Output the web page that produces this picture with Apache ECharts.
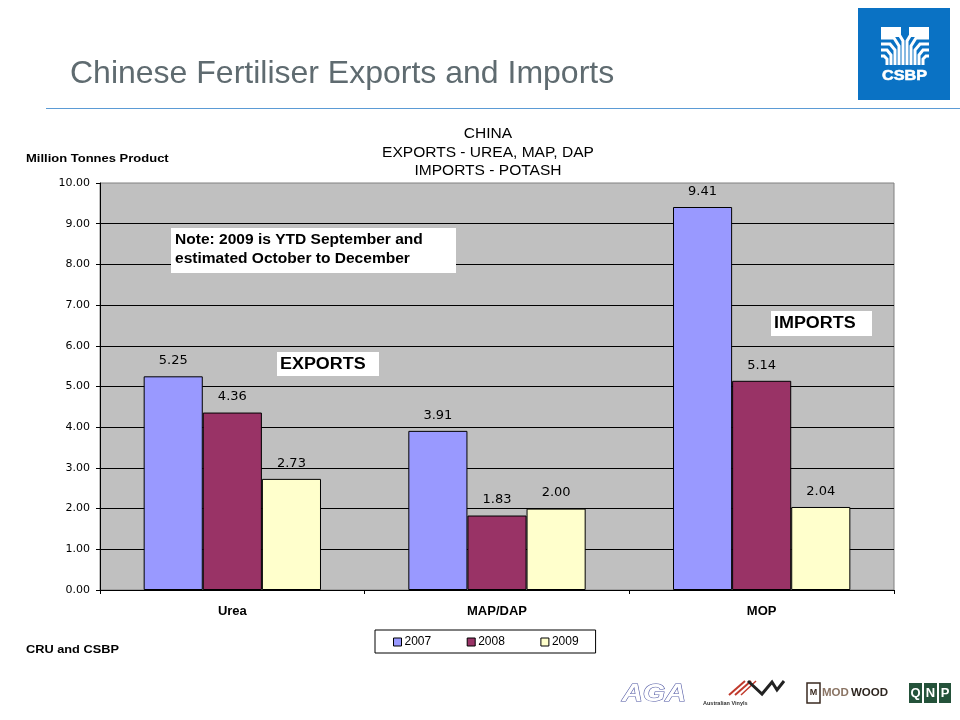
<!DOCTYPE html>
<html>
<head>
<meta charset="utf-8">
<title>Chinese Fertiliser Exports and Imports</title>
<script src="https://cdn.jsdelivr.net/npm/echarts@6/dist/echarts.min.js"></script>
<style>
html, body { margin: 0; padding: 0; background: #fff; }
#main { width: 960px; height: 720px; }
</style>
</head>
<body>
<div id="main"></div>
<script>
const categories = ['Urea', 'MAP/DAP', 'MOP'];
const values2007 = [5.25, 3.91, 9.41];
const values2008 = [4.36, 1.83, 5.14];
const values2009 = [2.73, 2.00, 2.04];

const FONT = '"Liberation Sans", Arial, sans-serif';
const WIDE_FONT = '"DejaVu Sans", sans-serif';

function makeSeries(name, data, color) {
	return {
		name: name,
		type: 'bar',
		data: data,
		barGap: 0,
		barCategoryGap: '33%',
		itemStyle: { color: color, borderColor: '#000', borderWidth: 1 },
		label: {
			show: true,
			position: 'top',
			distance: 9,
			color: '#000',
			fontFamily: WIDE_FONT,
			fontSize: 13,
			formatter: function (p) { return p.value.toFixed(2); }
		}
	};
}

// stretch: the reference text is wider than Liberation Sans at the same height
function txt(x, y, text, size, extra, stretch) {
	return {
		type: 'text', x: x, y: y, z: 20,
		scaleX: stretch || 1,
		style: Object.assign({ text: text, fontFamily: FONT, fontSize: size, fill: '#000' }, extra || {})
	};
}

function box(x, y, w, h, extra) {
	return {
		type: 'rect', z: 15,
		shape: { x: x, y: y, width: w, height: h },
		style: Object.assign({ fill: '#fff' }, extra || {})
	};
}

function line(points, color, width) {
	return {
		type: 'polyline', z: 20,
		shape: { points: points },
		style: { stroke: color, lineWidth: width, fill: null }
	};
}

// logo top right, hand drawn approximation
const logoMarks = [
	box(858, 8, 92, 92, { fill: '#0a72c4' }),
	box(881, 27, 20, 10, { fill: '#fff' }),
	box(909, 27, 20, 10, { fill: '#fff' }),
	line([[881, 31], [897, 31], [903, 41], [903, 65]], '#fff', 3),
	line([[881, 38], [894, 38], [899, 46], [899, 65]], '#fff', 3),
	line([[881, 44], [890, 44], [895, 50], [895, 65]], '#fff', 3),
	line([[881, 50], [887, 50], [891, 55], [891, 65]], '#fff', 3),
	line([[881, 56], [884, 56], [887, 59], [887, 65]], '#fff', 3),
	line([[929, 31], [913, 31], [907, 41], [907, 65]], '#fff', 3),
	line([[929, 38], [916, 38], [911, 46], [911, 65]], '#fff', 3),
	line([[929, 44], [920, 44], [915, 50], [915, 65]], '#fff', 3),
	line([[929, 50], [923, 50], [919, 55], [919, 65]], '#fff', 3),
	line([[929, 56], [926, 56], [923, 59], [923, 65]], '#fff', 3),
	txt(904.5, 76, 'CSBP', 15, { fill: '#fff', stroke: '#fff', lineWidth: 0.6, fontWeight: 'bold', align: 'center', verticalAlign: 'middle' }, 1.08)
];

// small brand marks along the bottom
const footerMarks = [
	txt(654, 694, 'AGA', 24, { fill: '#fff', stroke: '#4a52a0', lineWidth: 1, fontWeight: 'bold', fontStyle: 'italic', align: 'center', verticalAlign: 'middle' }, 1.2),
	line([[729, 695], [745, 681]], '#c0392b', 2),
	line([[735, 695], [751, 681]], '#c0392b', 2),
	line([[741, 695], [756, 681]], '#c0392b', 1.5),
	line([[748, 681], [762, 694], [772, 682], [777, 690], [784, 681]], '#222', 3),
	txt(703, 700, 'Australian Vinyls', 5.5, { fontWeight: 'bold', fill: '#333' }),
	box(807, 683, 13, 20, { fill: '#fff', stroke: '#3a2a20', lineWidth: 1.5 }),
	txt(813.5, 693, 'M', 9, { fontWeight: 'bold', fill: '#3a2a20', align: 'center', verticalAlign: 'middle' }),
	txt(822, 693, 'MOD', 11.5, { fontWeight: 'bold', fill: '#8a7464', verticalAlign: 'middle' }),
	txt(851, 693, 'WOOD', 11.5, { fontWeight: 'bold', fill: '#2e2620', verticalAlign: 'middle' }),
	box(909, 683, 13, 20, { fill: '#24523a' }),
	box(924, 683, 13, 20, { fill: '#24523a' }),
	box(939, 683, 12, 20, { fill: '#24523a' }),
	txt(915.5, 693, 'Q', 13, { fill: '#fff', fontWeight: 'bold', align: 'center', verticalAlign: 'middle' }),
	txt(930.5, 693, 'N', 13, { fill: '#fff', fontWeight: 'bold', align: 'center', verticalAlign: 'middle' }),
	txt(945, 693, 'P', 13, { fill: '#fff', fontWeight: 'bold', align: 'center', verticalAlign: 'middle' })
];

const chart = echarts.init(document.getElementById('main'), null, { renderer: 'canvas' });

const option = {
	animation: false,
	backgroundColor: '#fff',
	grid: {
		left: 100, top: 183, width: 794, height: 407,
		show: true, backgroundColor: '#c0c0c0', borderColor: '#808080', borderWidth: 1
	},
	legend: {
		left: 375, top: 630,
		data: ['2007', '2008', '2009'],
		icon: 'rect',
		padding: [6, 17, 5, 18],
		itemWidth: 8, itemHeight: 8, itemGap: 35.5,
		borderColor: '#000', borderWidth: 1, borderRadius: 0,
		backgroundColor: '#fff',
		textStyle: { fontFamily: FONT, fontSize: 12, color: '#000', padding: [0, 0, 0, -2] },
		itemStyle: { borderColor: '#000', borderWidth: 1 }
	},
	xAxis: {
		type: 'category',
		data: categories,
		axisLine: { lineStyle: { color: '#000' } },
		axisTick: { show: true, length: 4, alignWithLabel: false, lineStyle: { color: '#000' } },
		axisLabel: { color: '#000', fontFamily: FONT, fontSize: 13, fontWeight: 'bold', margin: 15 }
	},
	yAxis: {
		type: 'value',
		min: 0, max: 10, interval: 1,
		axisLine: { show: true, lineStyle: { color: '#000' } },
		axisTick: { show: true, length: 4, lineStyle: { color: '#000' } },
		axisLabel: {
			color: '#000', fontFamily: WIDE_FONT, fontSize: 11, margin: 10, padding: [2, 0, 0, 0],
			formatter: function (v) { return v.toFixed(2); }
		},
		splitLine: { show: true, showMinLine: false, showMaxLine: false, lineStyle: { color: '#000', width: 1 } }
	},
	series: [
		makeSeries('2007', values2007, '#9999ff'),
		makeSeries('2008', values2008, '#993366'),
		makeSeries('2009', values2009, '#ffffcc')
	],
	graphic: [
		txt(70, 58, 'Chinese Fertiliser Exports and Imports', 32, { fill: '#5f6b70' }),
		line([[46, 108.5], [960, 108.5]], '#5b9bd5', 1),
		txt(488, 125, 'CHINA\nEXPORTS - UREA, MAP, DAP\nIMPORTS - POTASH', 14, { align: 'center', lineHeight: 18.5 }, 1.11),
		txt(26, 153, 'Million Tonnes Product', 11.5, { fontWeight: 'bold' }, 1.13),
		txt(26, 644, 'CRU and CSBP', 11.5, { fontWeight: 'bold' }, 1.11),
		box(171, 228, 285, 45),
		txt(175, 231, 'Note: 2009 is YTD September and\nestimated October to December', 14, { fontWeight: 'bold', lineHeight: 19 }, 1.11),
		box(277, 352, 102, 24),
		txt(280, 357, 'EXPORTS', 16, { fontWeight: 'bold' }, 1.12),
		box(771, 311, 101, 25),
		txt(774, 316, 'IMPORTS', 16, { fontWeight: 'bold' }, 1.12)
	].concat(logoMarks, footerMarks)
};

chart.setOption(option);
</script>
</body>
</html>
